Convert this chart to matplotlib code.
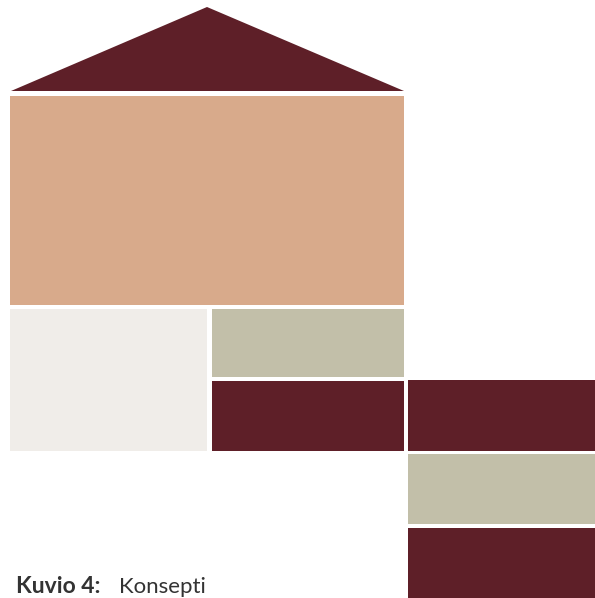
import matplotlib
matplotlib.use("Agg")
import matplotlib.pyplot as plt
from matplotlib.patches import Rectangle, Polygon

# kuvion lohkot (pikseleinä, y alaspäin)
block_left = [10, 10, 212, 212, 408, 408, 408]
block_top = [96, 309, 309, 381, 380, 454, 528]
block_right = [404, 207, 404, 404, 595, 595, 598]
block_bottom = [305, 451, 377, 451, 451, 524, 598]
block_color = ["#D8AA8B", "#F0EDE9", "#C2BFA9", "#5E1F28",
               "#5E1F28", "#C2BFA9", "#5E1F28"]

# katto
roof_x = [11, 207, 404]
roof_y = [91, 7, 91]

caption_bold = "Kuvio 4:"
caption_text = "Konsepti"

fig = plt.figure(figsize=(5.95, 5.98), dpi=100)
ax = fig.add_axes([0, 0, 1, 1])
ax.set_xlim(0, 595)
ax.set_ylim(598, 0)
ax.axis("off")

ax.add_patch(Polygon(list(zip(roof_x, roof_y)), closed=True,
                     facecolor="#5E1F28", edgecolor="none"))
for l, t, r, b, c in zip(block_left, block_top, block_right, block_bottom, block_color):
    ax.add_patch(Rectangle((l, t), r - l, b - t, facecolor=c, edgecolor="none"))

ax.text(16, 593, caption_bold, fontsize=16.5, fontweight="bold", family="Lato",
        color="#333333", va="baseline", ha="left")
ax.text(119, 593, caption_text, fontsize=16, family="Lato",
        color="#333333", va="baseline", ha="left")

fig.savefig("out.png", dpi=100)
